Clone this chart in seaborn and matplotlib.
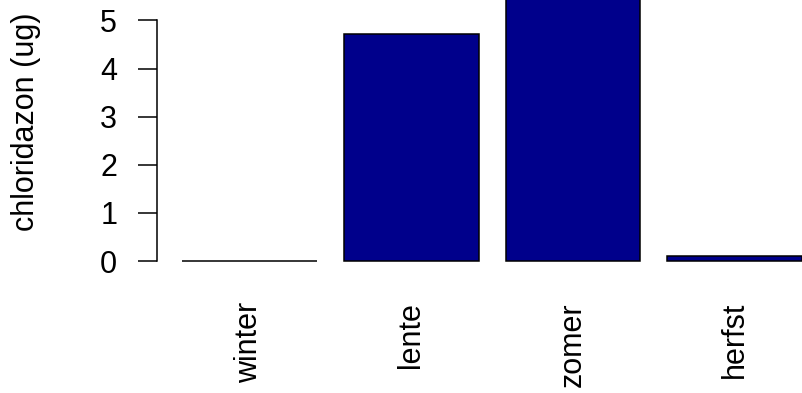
import matplotlib
matplotlib.use("Agg")
import matplotlib.pyplot as plt
import seaborn as sns

seasons = ["winter", "lente", "zomer", "herfst"]
chloridazon = [0.0, 4.72, 6.3, 0.11]
yticks = [0, 1, 2, 3, 4, 5]

sns.set_style("white")
plt.rcParams["font.family"] = ["Liberation Sans", "DejaVu Sans"]

fig = plt.figure(figsize=(8.02, 3.93), dpi=100)
ax = fig.add_axes([157 / 802, (393 - 270) / 393, 1 - 157 / 802, 270 / 393])

sns.barplot(x=seasons, y=chloridazon, color="#00008B", saturation=1,
            edgecolor="black", linewidth=1.1, width=0.833, ax=ax)

ax.set_xlim(-0.572, 3.417)
ax.set_ylim(-0.187, 5.426)
ax.set_yticks(yticks)
ax.set_yticklabels([str(t) for t in yticks])

for s in ["top", "right", "bottom"]:
    ax.spines[s].set_visible(False)
ax.spines["left"].set_bounds(0, 5)
ax.spines["left"].set_linewidth(1.1)
ax.spines["left"].set_color("black")

ax.tick_params(axis="y", length=13.7, width=1.1, pad=15, labelsize=22,
               colors="black", left=True)
ax.tick_params(axis="x", length=0, pad=23, labelsize=22, colors="black")
for lbl in ax.get_xticklabels():
    lbl.set_rotation(90)
    lbl.set_va("top")
    lbl.set_ha("center")

ax.set_ylabel("chloridazon (ug)", fontsize=22, color="black")
ax.yaxis.label.set_va("center")
ax.yaxis.set_label_coords(-0.203, 0.55)
ax.set_xlabel("")

fig.savefig("out.png", dpi=100)
